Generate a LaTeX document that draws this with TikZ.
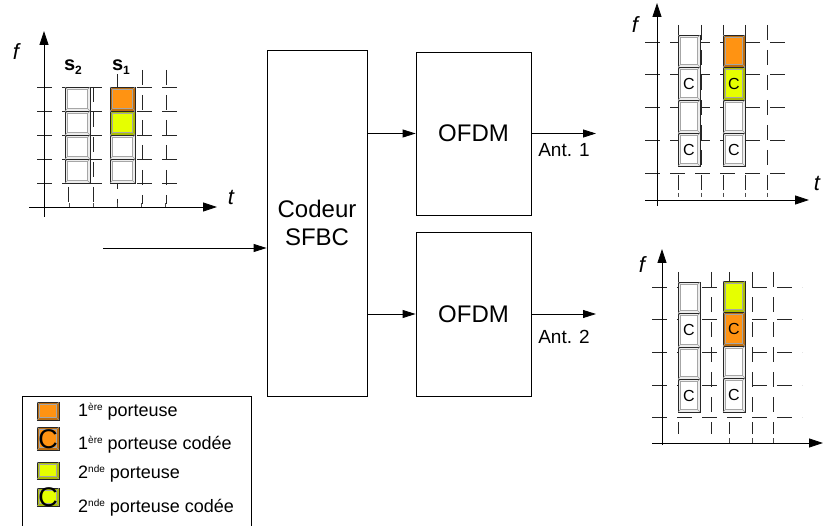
\documentclass[tikz,border=0pt]{standalone}
\usepackage{fontspec}
\setmainfont{Liberation Sans}
\usetikzlibrary{arrows.meta}
\definecolor{ora}{HTML}{FF9312}
\definecolor{yel}{HTML}{E6FF00}
\newcommand\cellbox[6]{%
  \filldraw[fill=#6,draw=black!85,line width=0.9pt] (#1,#2) rectangle (#3,#4);
  \filldraw[fill=#5,draw=black!35,line width=0.5pt] ({#1+2.5},{#2+2.5}) rectangle ({#3-2.5},{#4-2.5});
  \draw[black!40,line width=0.5pt] (#1,#2) -- ({#1+2.5},{#2+2.5}) (#3,#2) -- ({#3-2.5},{#2+2.5})
     (#1,#4) -- ({#1+2.5},{#4-2.5}) (#3,#4) -- ({#3-2.5},{#4-2.5});
}
\newcommand\wcell[4]{\cellbox{#1}{#2}{#3}{#4}{white}{black!7}}
\newcommand\ocell[4]{\cellbox{#1}{#2}{#3}{#4}{ora}{ora!75!black}}
\newcommand\ycell[4]{\cellbox{#1}{#2}{#3}{#4}{yel}{yel!75!black}}
\newcommand\supx[1]{\raisebox{6pt}{\fontsize{10}{10}\selectfont #1}}
\begin{document}
\begin{tikzpicture}[x=1pt,y=-1pt,
  gridl/.style={dash pattern=on 15pt off 10pt, line width=0.7pt, black!85},
  axisl/.style={line width=0.8pt, -{Triangle[length=14pt,width=9pt]}},
  tick/.style={line width=0.6pt, black!70},
  arr/.style={line width=0.8pt, -{Triangle[length=13pt,width=8pt]}},
  block/.style={draw, line width=0.8pt, inner sep=0pt, font=\fontsize{24}{28}\selectfont, align=center},
  axlab/.style={font=\fontsize{22}{22}\selectfont\itshape},
  slab/.style={font=\fontsize{20}{20}\selectfont\bfseries},
  clab/.style={font=\fontsize{16}{16}\selectfont, inner sep=0pt},
  antlab/.style={font=\fontsize{19}{19}\selectfont, anchor=center},
  leglab/.style={font=\fontsize{18}{18}\selectfont, anchor=west, inner sep=0pt},
  legc/.style={font=\fontsize{27}{27}\selectfont, inner sep=0pt}]
\useasboundingbox (0,0) rectangle (834,526);

% ---------- left grid ----------
\foreach \y in {87,111,135,159,183} \draw[gridl] (37,\y) -- (186,\y);
\foreach \x/\s in {68/87,93/87,117/74,142/70,166/70} \draw[gridl] (\x,\s) -- (\x,204);
\foreach \x in {69,93,117,141,165} \draw[tick] (\x,203.5) -- (\x,207);
\draw[axisl] (44,217) -- (44,31);
\draw[axisl] (29,207) -- (217,207);
\node[axlab] (lf) at (16,52) {f};
\node[axlab] (lt) at (231,197) {t};
\node[slab] (s2) at (73,67) {s\raisebox{-4pt}{\fontsize{12}{12}\selectfont 2}};
\node[slab] (s1) at (121,67) {s\raisebox{-4pt}{\fontsize{12}{12}\selectfont 1}};
\foreach \y in {87,111,135,159} \wcell{65}{\y}{90}{\y+24};
\ocell{110}{87}{135}{111}
\ycell{110}{111}{135}{135}
\wcell{110}{135}{135}{159}
\wcell{110}{159}{135}{183}

% ---------- top right grid ----------
\foreach \y in {42,74,107,140,173} \draw[gridl] (645,\y) -- (793,\y);
\foreach \x in {678,701,723,745,767} \draw[gridl] (\x,25) -- (\x,190);
\foreach \x in {678,701,723,745,767} \draw[tick] (\x,193) -- (\x,197);
\draw[axisl] (657,206) -- (657,3);
\draw[axisl] (645,200) -- (809,200);
\node[axlab] (rf1) at (635,25) {f};
\node[axlab] (rt1) at (817,183) {t};
\wcell{678}{35}{700}{67}
\wcell{678}{67}{700}{100}
\wcell{678}{100}{700}{133}
\wcell{678}{133}{700}{166}
\ocell{723}{35}{745}{67}
\ycell{723}{67}{745}{100}
\wcell{723}{100}{745}{133}
\wcell{723}{133}{745}{166}
\node[clab] (c1) at (689,84) {C};
\node[clab] (c2) at (689,150) {C};
\node[clab] (c3) at (734,84) {C};
\node[clab] (c4) at (734,150) {C};

% ---------- bottom right grid ----------
\foreach \y in {287,319,352,385,417} \draw[gridl] (652,\y) -- (802,\y);
\foreach \x in {678,711,729,752,773} \draw[gridl] (\x,272) -- (\x,434);
\foreach \x in {729,752,773} \draw[tick] (\x,438) -- (\x,443);
\draw[axisl] (662,445) -- (662,249);
\draw[axisl] (652,443) -- (823,443);
\node[axlab] (rf2) at (642,265) {f};
\wcell{678}{282}{700}{313}
\wcell{678}{313}{700}{347}
\wcell{678}{347}{700}{379}
\wcell{678}{379}{700}{412}
\ycell{723}{281}{745}{312}
\ocell{723}{312}{745}{346}
\wcell{723}{346}{745}{378}
\wcell{723}{378}{745}{412}
\node[clab] (c5) at (689,330) {C};
\node[clab] (c6) at (689,396) {C};
\node[clab] (c7) at (734,329) {C};
\node[clab] (c8) at (734,395) {C};

% ---------- blocks ----------
\node[block, minimum width=100pt, minimum height=346pt] (cod) at (317,223) {Codeur\\SFBC};
\node[block, minimum width=115pt, minimum height=163pt] (o1) at (473.5,133.5) {OFDM};
\node[block, minimum width=115pt, minimum height=164pt] (o2) at (473.5,314) {OFDM};
\coordinate (in) at (103,248);
\coordinate (a1) at (596,133.5);
\coordinate (a2) at (596,314);
\draw[arr] (in) -- (in -| cod.west);
\draw[arr] (cod.east |- o1.west) -- (o1.west);
\draw[arr] (cod.east |- o2.west) -- (o2.west);
\draw[arr] (o1.east) -- (a1);
\draw[arr] (o2.east) -- (a2);
\node[antlab] (ant1) at (564,150) {Ant. 1};
\node[antlab] (ant2) at (564,337) {Ant. 2};

% ---------- legend ----------
\draw[line width=0.8pt] (22,527) -- (22,396) -- (251,396) -- (251,527);
\ocell{37}{402}{59}{420}
\ocell{37}{427}{59}{450}
\ycell{37}{462}{59}{479}
\ycell{37}{488}{59}{506}
\node[legc] (lc1) at (48,439) {C};
\node[legc] (lc2) at (48,497) {C};
\node[leglab] (l1) at (78,412) {1\supx{ère} porteuse};
\node[leglab] (l2) at (78,445) {1\supx{ère} porteuse codée};
\node[leglab] (l3) at (78,474) {2\supx{nde} porteuse};
\node[leglab] (l4) at (78,508) {2\supx{nde} porteuse codée};
\end{tikzpicture}
\end{document}
